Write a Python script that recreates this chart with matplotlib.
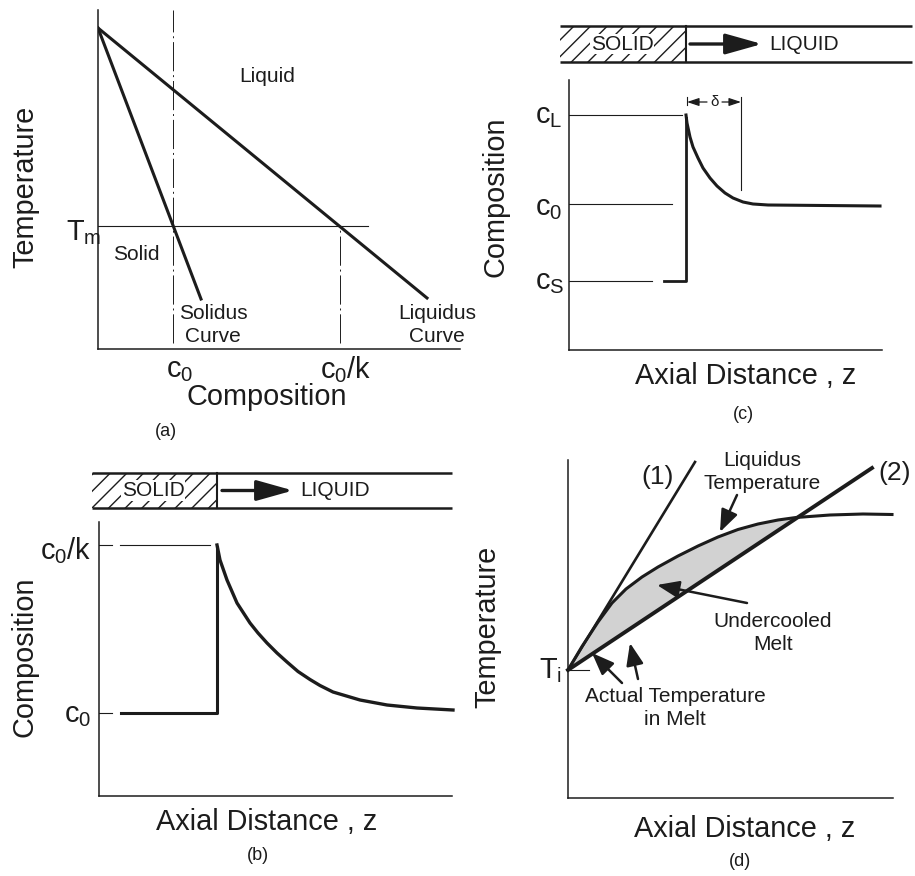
import numpy as np
import matplotlib
matplotlib.use('Agg')
import matplotlib.pyplot as plt
from matplotlib.patches import Rectangle

plt.rcParams['font.family'] = ['Liberation Sans', 'DejaVu Sans']
plt.rcParams['mathtext.fontset'] = 'custom'
plt.rcParams['mathtext.rm'] = 'Liberation Sans'
plt.rcParams['hatch.linewidth'] = 1.0

# schematic values, arbitrary units measured from each panel's axis origin
# (a) phase diagram
a_apex = (0, 321)
a_solidus_end = (103, 50)
a_liquidus_end = (329, 51)
a_Tm = 123
a_c0 = 75
a_c0k = 242
a_Tm_end = 270

# (b) steady state profile
b_c0 = 83
b_c0k = 251
b_front = 118
b_curve_x = [118, 121, 128, 138, 151, 159, 168, 178, 188, 199, 211, 221, 234,
             261, 288, 318, 354]
b_curve_y = [251, 236, 216, 193, 173, 163, 153, 143, 134, 124.5, 116.5, 110.5, 104,
             96, 91, 88, 86]

# (c) initial transient
c_cL = 235
c_c0 = 146
c_cs = 69
c_front = 117
c_curve_x = [117, 118, 121, 124, 129, 134, 141, 148, 156, 164, 174, 184, 199, 311]
c_curve_y = [235, 227, 213, 203, 192, 182, 172, 164, 157, 152, 148, 146, 145, 144]
c_delta = (118, 172)

# (d) constitutional undercooling
d_Ti = 128
d_line1_x, d_line1_y = [0, 127], [128, 336]
d_line2_x, d_line2_y = [0, 304], [128, 330]
d_liq_x = [0, 14, 30, 44, 58, 74, 90, 110, 130, 150, 170, 190, 210, 228,
           262, 295, 324]
d_liq_y = [128, 151.5, 176, 195, 209, 221, 231, 242, 252, 261, 268.5, 274, 278, 280.5,
           283, 284, 283.5]
d_cross = 13   # index where liquidus meets line (2)

W, H = 915, 876
INK = '#1c1c1c'
BIG = 20.8
fig = plt.figure(figsize=(W / 100, H / 100), dpi=100)


def put(px, py, s, size=15, **kw):
    fig.text(px / W, 1 - py / H, s, size=size, color=INK,
             ha=kw.pop('ha', 'center'), va=kw.pop('va', 'center'), **kw)


def panel(x0, y0, w, h):
    ax = fig.add_axes([x0 / W, 1 - y0 / H, w / W, h / H])
    ax.set_xlim(0, w)
    ax.set_ylim(0, h)
    ax.spines[['top', 'right']].set_visible(False)
    ax.spines[['left', 'bottom']].set_linewidth(1.1)
    ax.spines[['left', 'bottom']].set_color(INK)
    ax.set_xticks([])
    ax.set_yticks([])
    ax.patch.set_alpha(0)
    return ax


def tube(ax, xl, xr, front, yb, yt, arr, txt_solid, txt_liq):
    ax.add_patch(Rectangle((xl, yb), front - xl, yt - yb, fill=False, hatch='//',
                           lw=0, ec=INK, clip_on=False))
    for y in (yb, yt):
        ax.plot([xl, xr], [y, y], color=INK, lw=1.8, clip_on=False,
                solid_capstyle='butt')
    ax.plot([front, front], [yb, yt], color=INK, lw=1.5, clip_on=False)
    ym = (yb + yt) / 2
    ax.annotate('', xy=(arr[1], ym), xytext=(arr[0], ym), annotation_clip=False,
                arrowprops=dict(arrowstyle='-|>,head_length=1.6,head_width=0.45',
                                mutation_scale=14, lw=2.4, color=INK,
                                shrinkA=0, shrinkB=0))
    ax.text(txt_solid, ym, 'SOLID', size=15, ha='center', va='center', color=INK,
            bbox=dict(fc='white', ec='none', pad=0.5), clip_on=False)
    ax.text(txt_liq, ym, 'LIQUID', size=15, ha='center', va='center', color=INK,
            clip_on=False)


dashdot = (0, (30, 4, 2, 4))

# ---------------- (a)
ax = panel(98, 349, 362, 339)
ax.plot([a_apex[0], a_solidus_end[0]], [a_apex[1], a_solidus_end[1]], color=INK, lw=2.2)
ax.plot([a_apex[0], a_liquidus_end[0]], [a_apex[1], a_liquidus_end[1]], color=INK, lw=2.2)
ax.plot([0, a_Tm_end], [a_Tm, a_Tm], color=INK, lw=0.8)
ax.plot([a_c0, a_c0], [6, 339], color=INK, lw=0.7, ls=dashdot)
ax.plot([a_c0k, a_c0k], [6, a_Tm], color=INK, lw=0.7, ls=dashdot)
put(25, 187, 'Temperature', size=BIG, rotation=90)
put(84, 233, r'$\mathregular{T_m}$', size=BIG)
put(267, 76, 'Liquid')
put(136, 255, 'Solid')
put(213, 325, 'Solidus\nCurve', linespacing=1.25)
put(437, 325, 'Liquidus\nCurve', linespacing=1.25)
put(180, 370, r'$\mathregular{c_0}$', size=BIG)
put(346, 370, r'$\mathregular{c_0/k}$', size=BIG)
put(267, 397, 'Composition', size=BIG)
put(166, 432, '(a)', size=13)

# ---------------- (b)
ax = panel(99, 796, 353, 274)
tube(ax, -7, 353, b_front, 288, 323, (123, 194), 54, 236)
ax.plot([0, 13], [b_c0k, b_c0k], color=INK, lw=0.8)
ax.plot([21, 111], [b_c0k, b_c0k], color=INK, lw=0.8)
ax.plot([0, 13], [b_c0, b_c0], color=INK, lw=0.8)
ax.plot([22, b_front, b_front], [b_c0, b_c0, b_c0k - 2], color=INK, lw=2.2)
ax.plot(b_curve_x, b_curve_y, color=INK, lw=2.4, clip_on=False)
put(25, 657, 'Composition', size=BIG, rotation=90)
put(66, 551, r'$\mathregular{c_0/k}$', size=BIG)
put(78, 715, r'$\mathregular{c_0}$', size=BIG)
put(267, 822, 'Axial Distance , z', size=BIG)
put(258, 855, '(b)', size=13)

# ---------------- (c)
ax = panel(569, 350, 313, 270)
tube(ax, -9, 343, c_front, 288, 324, (121, 193), 53, 235)
ax.plot([0, 113], [c_cL, c_cL], color=INK, lw=0.8)
ax.plot([0, 103], [c_c0, c_c0], color=INK, lw=0.8)
ax.plot([0, 83], [c_cs, c_cs], color=INK, lw=0.8)
ax.plot([95, c_front, c_front], [c_cs, c_cs, c_cL - 3], color=INK, lw=2.0)
ax.plot(c_curve_x, c_curve_y, color=INK, lw=2.2)
ax.plot([c_delta[0], c_delta[0]], [245, 253], color=INK, lw=0.8)
ax.plot([c_delta[1], c_delta[1]], [160, 253], color=INK, lw=0.8)
for tail, head in ((138, c_delta[0]), (153, c_delta[1])):
    ax.annotate('', xy=(head, 248), xytext=(tail, 248),
                arrowprops=dict(arrowstyle='-|>,head_length=0.9,head_width=0.3',
                                mutation_scale=8, lw=0.9, color=INK,
                                shrinkA=0, shrinkB=0))
put(715, 102, r'$\mathregular{\delta}$', size=11)
put(495, 197, 'Composition', size=BIG, rotation=90)
put(549, 116, r'$\mathregular{c_L}$', size=BIG)
put(549, 208, r'$\mathregular{c_0}$', size=BIG)
put(550, 282, r'$\mathregular{c_S}$', size=BIG)
put(746, 376, 'Axial Distance , z', size=BIG)
put(743, 415, '(c)', size=13)

# ---------------- (d)
ax = panel(568, 798, 325, 338)
ax.fill(d_liq_x[:d_cross + 1] + [0], d_liq_y[:d_cross + 1] + [d_Ti],
        color='#d2d2d2', lw=0)
ax.plot(d_line1_x, d_line1_y, color=INK, lw=1.9, clip_on=False)
ax.plot(d_line2_x, d_line2_y, color=INK, lw=2.8, clip_on=False)
ax.plot(d_liq_x, d_liq_y, color=INK, lw=2.2, clip_on=False)
ax.plot([0, 21], [d_Ti, d_Ti], color=INK, lw=0.8)
arrow_kw = dict(arrowstyle='-|>,head_length=0.9,head_width=0.35',
                mutation_scale=15, lw=1.8, color=INK, shrinkA=0, shrinkB=0)
for tail, head in (((169, 303), (152, 266)), ((179, 195), (89, 213)),
                   ((54, 115), (24, 145)), ((70, 119), (62, 155))):
    ax.annotate('', xy=head, xytext=tail, arrowprops=arrow_kw)
put(487, 627, 'Temperature', size=BIG, rotation=90)
put(551, 671, r'$\mathregular{T_i}$', size=BIG)
put(658, 477, '(1)', size=19)
put(895, 473, '(2)', size=19)
put(762, 472, 'Liquidus\nTemperature', linespacing=1.25)
put(773, 633, 'Undercooled\nMelt', linespacing=1.25)
put(675, 708, 'Actual Temperature\nin Melt', linespacing=1.25)
put(745, 829, 'Axial Distance , z', size=BIG)
put(740, 862, '(d)', size=13)

fig.savefig('out.png', dpi=100)
